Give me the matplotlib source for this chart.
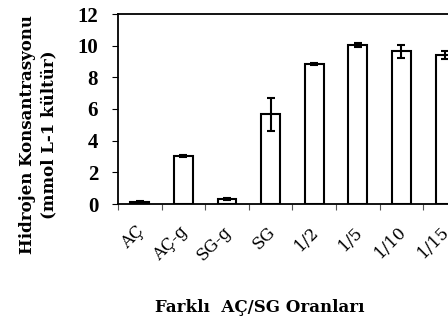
import matplotlib
matplotlib.use("Agg")
import matplotlib.pyplot as plt
import matplotlib.transforms as mtransforms
import numpy as np

categories = ["AÇ", "AÇ-g", "SG-g", "SG", "1/2", "1/5", "1/10", "1/15"]
values = [0.12, 3.03, 0.32, 5.66, 8.85, 10.05, 9.64, 9.40]
errors = [0.04, 0.05, 0.08, 1.05, 0.05, 0.15, 0.42, 0.25]
yticks = [0, 2, 4, 6, 8, 10, 12]

W, H = 448, 323
fig = plt.figure(figsize=(W / 100, H / 100), dpi=100)
times = ["Liberation Serif", "DejaVu Serif"]
camb = ["DejaVu Serif"]

left_px, top_px, bottom_px = 118, 14, 204
width_px = 9 * 43.6
ax = fig.add_axes([left_px / W, 1 - bottom_px / H, width_px / W, (bottom_px - top_px) / H])

x = np.arange(len(categories))
ax.bar(x, values, width=0.43, color="white", edgecolor="black", linewidth=1.5, zorder=2)
ax.errorbar(x, values, yerr=errors, fmt="none", ecolor="black", elinewidth=1.5,
            capsize=3.2, capthick=1.5, zorder=3)

ax.set_xlim(-0.5, 8.5)
ax.set_ylim(0, 12)
ax.set_yticks(yticks)
ax.set_yticklabels([str(v) for v in yticks], fontfamily=times, fontsize=15, fontweight="bold")
ax.tick_params(axis="y", direction="out", length=4.3, width=0.8, pad=10)

ax.set_xticks(x)
ax.set_xticklabels(categories, fontfamily=camb, fontsize=12, rotation=45,
                   ha="right", va="center", rotation_mode="anchor")
ax.tick_params(axis="x", which="major", length=0, pad=18)
offset = mtransforms.ScaledTranslation(2 / 100, 0, fig.dpi_scale_trans)
for lab in ax.get_xticklabels():
    lab.set_transform(lab.get_transform() + offset)
ax.set_xticks(np.arange(-0.5, 8.5, 1.0), minor=True)
ax.tick_params(axis="x", which="minor", direction="out", length=4.3, width=0.8, color="#555555")

for s in ["left", "bottom", "top"]:
    ax.spines[s].set_linewidth(1.3)
    ax.spines[s].set_color("black")
ax.spines["right"].set_visible(False)

fig.text(38 / W, 1 - 135 / H, "Hidrojen Konsantrasyonu\n(mmol L-1 kültür)",
         rotation=90, ha="center", va="center", multialignment="center",
         fontfamily=camb, fontsize=12, fontweight="bold", linespacing=1.35)
fig.text(260 / W, 1 - 308 / H, "Farklı  AÇ/SG Oranları", ha="center", va="center",
         fontfamily=camb, fontsize=12, fontweight="bold")

fig.savefig("out.png", dpi=100)
